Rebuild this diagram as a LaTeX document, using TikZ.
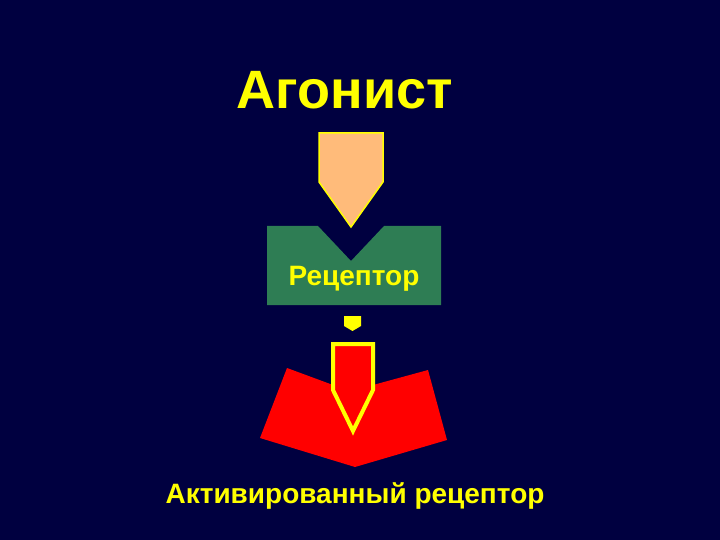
\documentclass[tikz,border=0pt]{standalone}
\usepackage{fontspec}
\setmainfont{Liberation Sans}
\definecolor{bg}{RGB}{0,0,64}
\definecolor{yel}{RGB}{255,255,0}
\definecolor{peach}{RGB}{255,187,122}
\definecolor{grn}{RGB}{46,125,84}
\definecolor{rd}{RGB}{255,0,0}
\begin{document}
\begin{tikzpicture}[x=1pt,y=-1pt,
  lbl/.style={text=yel,font=\bfseries,inner sep=0pt}]
\fill[bg] (0,0) rectangle (720,540);
\useasboundingbox (0,0) rectangle (720,540);
% agonist
\node[lbl,font=\bfseries\fontsize{54}{60}\selectfont] (ag) at (345,90) {Агонист};
\filldraw[fill=peach,draw=yel,line width=1.5pt] (319,133) -- (383,133) -- (383,182) -- (351,227) -- (319,182) -- cycle;
% receptor
\fill[grn] (267,226) -- (318,226) -- (351,261) -- (384,226) -- (441,226) -- (441,305) -- (267,305) -- cycle;
\node[lbl,font=\bfseries\fontsize{28}{32}\selectfont] (rec) at (354,279) {Рецептор};
% small arrow
\fill[yel] (344,316) -- (361,316) -- (361,326) -- (352.5,331) -- (344,326) -- cycle;
% activated receptor
\fill[rd] (287,368) -- (333,385) -- (373,385) -- (428,370) -- (447,440) -- (355,467) -- (260,438) -- cycle;
\filldraw[fill=rd,draw=yel,line width=4pt,line join=miter] (333,344) -- (373,344) -- (373,390) -- (353,431) -- (333,390) -- cycle;
\node[lbl,font=\bfseries\fontsize{28}{32}\selectfont] (act) at (355,496) {Активированный рецептор};
\end{tikzpicture}
\end{document}
